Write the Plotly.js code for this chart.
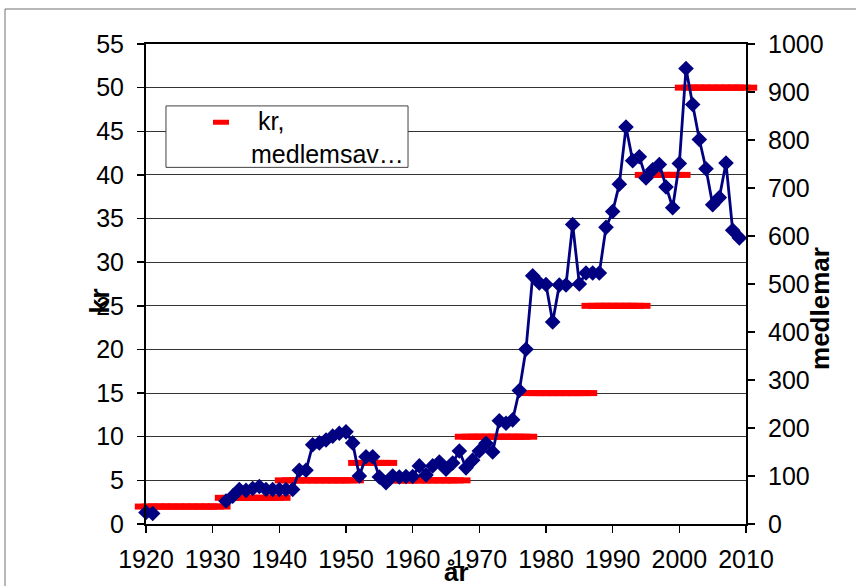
<!DOCTYPE html>
<html><head><meta charset="utf-8">
<script src="https://cdn.plot.ly/plotly-3.0.1.min.js"></script>
<style>html,body{margin:0;padding:0;background:#fff;}#chart{width:856px;height:586px;}</style>
</head><body><div id="chart"></div>
<script>
// Membership fee (kr) per year
const feeYears = [1920,1921,1922,1923,1924,1925,1926,1927,1928,1929,1930,1931,
  1932,1933,1934,1935,1936,1937,1938,1939,1940,
  1941,1942,1943,1944,1945,1946,1947,1948,1949,1950,1951,
  1952,1953,1954,1955,1956,
  1957,1958,1959,1960,1961,1962,1963,1964,1965,1966,1967,
  1968,1969,1970,1971,1972,1973,1974,1975,1976,1977,
  1978,1979,1980,1981,1982,1983,1984,1985,1986,
  1987,1988,1989,1990,1991,1992,1993,1994,
  1995,1996,1997,1998,1999,2000,
  2001,2002,2003,2004,2005,2006,2007,2008,2009,2010];
const feeKr = [2,2,2,2,2,2,2,2,2,2,2,2,
  3,3,3,3,3,3,3,3,3,
  5,5,5,5,5,5,5,5,5,5,5,
  7,7,7,7,7,
  5,5,5,5,5,5,5,5,5,5,5,
  10,10,10,10,10,10,10,10,10,10,
  15,15,15,15,15,15,15,15,15,
  25,25,25,25,25,25,25,25,
  40,40,40,40,40,40,
  50,50,50,50,50,50,50,50,50,50];

// Number of members per year (null = no data)
const memberYears = [1920,1921,1922,1923,1924,1925,1926,1927,1928,1929,1930,1931,
  1932,1933,1934,1935,1936,1937,1938,1939,1940,1941,
  1942,1943,1944,1945,1946,1947,1948,1949,1950,1951,
  1952,1953,1954,1955,1956,1957,1958,1959,1960,1961,
  1962,1963,1964,1965,1966,1967,1968,1969,1970,1971,
  1972,1973,1974,1975,1976,1977,1978,1979,1980,1981,
  1982,1983,1984,1985,1986,1987,1988,1989,1990,1991,
  1992,1993,1994,1995,1996,1997,1998,1999,2000,2001,
  2002,2003,2004,2005,2006,2007,2008,2009];
const members = [24,22,null,null,null,null,null,null,null,null,null,null,
  48,58,72,70,74,78,72,72,72,72,
  72,112,112,165,169,175,183,189,192,169,
  100,140,140,98,86,100,98,99,99,121,
  102,121,129,114,127,152,117,133,152,168,
  150,215,210,217,278,364,517,502,499,421,
  498,498,624,500,523,523,523,618,651,708,
  827,757,765,721,738,749,702,659,751,949,
  874,801,740,665,680,752,612,596];

const xTicks = [1920,1930,1940,1950,1960,1970,1980,1990,2000,2010];
const legendLabel = '\u00a0kr,<br>medlemsav\u2026';
const xTitle = 'år', yTitle = 'kr', y2Title = 'medlemar';

const FONT = 'Liberation Sans, Arial, sans-serif';
const traces = [
  {x: feeYears, y: feeKr, name: 'kr, medlemsavgift', type: 'scatter', mode: 'markers',
   xaxis: 'x', yaxis: 'y', cliponaxis: false, showlegend: false, hoverinfo: 'skip',
   marker: {symbol: 'line-ew', size: 16, color: '#ff0000', line: {color: '#ff0000', width: 6}}},
  {x: memberYears, y: members, name: 'medlemmar', type: 'scatter', mode: 'lines+markers',
   xaxis: 'x', yaxis: 'y2', cliponaxis: false, showlegend: false, connectgaps: false, hoverinfo: 'skip',
   line: {color: '#000080', width: 2.8},
   marker: {symbol: 'diamond', size: 12, color: '#000080'}}
];

const layout = {
  width: 856, height: 586,
  margin: {l: 146, r: 110, t: 44, b: 62},
  paper_bgcolor: '#ffffff', plot_bgcolor: '#ffffff',
  font: {family: FONT, size: 25, color: '#000'},
  showlegend: false,
  xaxis: {range: [1920, 2010], tickvals: xTicks, ticks: 'outside', ticklen: 7, tickwidth: 1.5,
    tickcolor: '#000', showline: true, linecolor: '#000', linewidth: 2, mirror: true,
    showgrid: false, zeroline: false, ticklabelstandoff: 5, tickfont: {size: 25}},
  yaxis: {range: [0, 55], dtick: 5, ticks: 'outside', ticklen: 7, tickwidth: 1.5, tickcolor: '#000',
    showline: true, linecolor: '#000', linewidth: 2, showgrid: true, gridcolor: '#333333', gridwidth: 1,
    zeroline: false, ticklabelstandoff: 8, tickfont: {size: 25}},
  yaxis2: {range: [0, 1000], dtick: 100, overlaying: 'y', side: 'right', ticks: 'outside', ticklen: 7,
    tickwidth: 1.5, tickcolor: '#000', showline: true, linecolor: '#000', linewidth: 2,
    showgrid: false, zeroline: false, ticklabelstandoff: 8, tickfont: {size: 25}},
  shapes: [
    {type: 'rect', xref: 'paper', yref: 'paper', x0: -0.235, x1: 2, y0: -1, y1: 1.0729,
     line: {color: '#707070', width: 1}, fillcolor: 'rgba(0,0,0,0)', layer: 'below'},
    {type: 'rect', xref: 'paper', yref: 'paper', x0: 0.0333, x1: 0.4367, y0: 0.743, y1: 0.871,
     line: {color: '#404040', width: 1}, fillcolor: '#ffffff', layer: 'above'},
    {type: 'line', xref: 'paper', yref: 'paper', x0: 0.1117, x1: 0.1383, y0: 0.837, y1: 0.837,
     line: {color: '#ff0000', width: 5}, layer: 'above'}
  ],
  annotations: [
    {text: legendLabel, xref: 'paper', yref: 'paper', x: 0.1717, y: 0.8046, xanchor: 'left',
     yanchor: 'middle', align: 'left', showarrow: false, font: {size: 25}},
    {text: '<b>' + xTitle + '</b>', xref: 'paper', yref: 'paper', x: 0.517, y: -0.1,
     xanchor: 'center', yanchor: 'middle', showarrow: false, font: {size: 26}},
    {text: '<b>' + yTitle + '</b>', xref: 'paper', yref: 'paper', x: -0.0772, y: 0.4646,
     xanchor: 'center', yanchor: 'middle', textangle: -90, showarrow: false, font: {size: 27}},
    {text: '<b>' + y2Title + '</b>', xref: 'paper', yref: 'paper', x: 1.1233, y: 0.45,
     xanchor: 'center', yanchor: 'middle', textangle: -90, showarrow: false, font: {size: 26}}
  ]
};
Plotly.newPlot('chart', traces, layout, {staticPlot: true, displayModeBar: false});
</script></body></html>
